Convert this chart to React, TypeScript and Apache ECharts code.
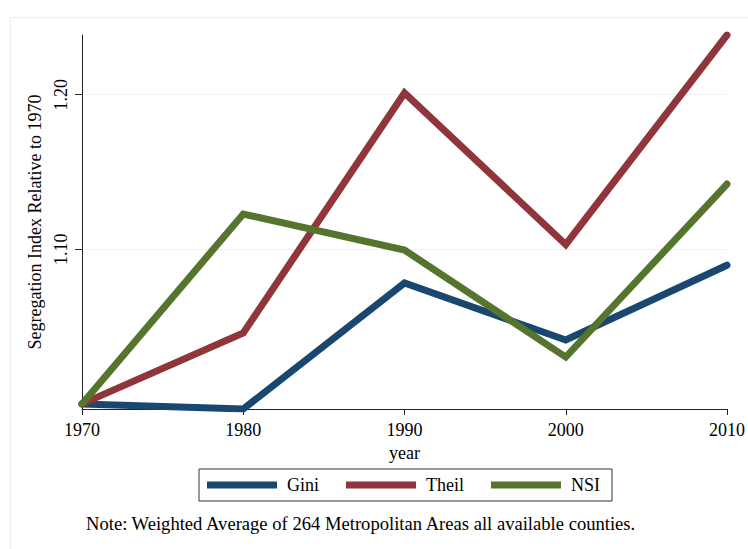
import React, { useEffect, useRef } from "react";
import * as echarts from "echarts";

// Census years on the horizontal axis
const years = ["1970", "1980", "1990", "2000", "2010"];

// Segregation indices, each relative to its 1970 level
const gini = [1.0, 0.9967, 1.0782, 1.0413, 1.0897];
const theil = [1.0, 1.0459, 1.2011, 1.1031, 1.2386];
const nsi = [1.0, 1.1228, 1.0995, 1.0303, 1.1422];

// Labelled ticks on the vertical axis
const yTicks = [1.1, 1.2];

const seriesNames = ["Gini", "Theil", "NSI"];
const seriesColors = ["#1a476f", "#90353b", "#55752f"];

const noteText =
  "Note: Weighted Average of 264 Metropolitan Areas all available counties.";

const FONT = "Liberation Serif";

export default function App() {
  const ref = useRef<HTMLDivElement>(null);

  useEffect(() => {
    if (!ref.current) return;
    const chart = echarts.init(ref.current, undefined, { renderer: "svg" });

    const allValues = [...gini, ...theil, ...nsi];
    const yMin = Math.min(...allValues);
    const yMax = Math.max(...allValues);

    const dataSets = [gini, theil, nsi];

    chart.setOption({
      animation: false,
      backgroundColor: "#ffffff",
      textStyle: { fontFamily: FONT, color: "#000" },
      grid: { left: 82, right: 18, top: 35, bottom: 140, containLabel: false },
      xAxis: {
        type: "category",
        data: years,
        boundaryGap: false,
        name: "year",
        nameLocation: "middle",
        nameGap: 30,
        nameTextStyle: { fontFamily: FONT, fontSize: 18, color: "#000" },
        axisLine: { show: true, lineStyle: { color: "#222", width: 1 } },
        axisTick: { show: true, length: 6, lineStyle: { color: "#222" } },
        axisLabel: {
          fontFamily: FONT,
          fontSize: 18,
          color: "#000",
          margin: 12,
        },
        splitLine: { show: false },
      },
      yAxis: {
        type: "value",
        min: yMin,
        max: yMax,
        name: "Segregation Index Relative to 1970",
        nameLocation: "middle",
        nameGap: 33,
        nameRotate: 90,
        nameTextStyle: { fontFamily: FONT, fontSize: 18, color: "#000" },
        axisLine: { show: true, lineStyle: { color: "#222", width: 1 } },
        axisTick: {
          show: true,
          length: 7,
          customValues: yTicks,
          lineStyle: { color: "#222" },
        },
        axisLabel: {
          customValues: yTicks,
          rotate: 90,
          fontFamily: FONT,
          fontSize: 18,
          color: "#000",
          margin: 12,
          formatter: (v: number) => v.toFixed(2),
        },
        splitLine: { show: true, lineStyle: { color: "#eaf2f3", width: 1 } },
      },
      legend: {
        data: seriesNames,
        left: 199,
        top: 469,
        orient: "horizontal",
        icon: "rect",
        itemWidth: 70,
        itemHeight: 7,
        itemGap: 27,
        padding: [7, 12, 7, 8],
        borderColor: "#333",
        borderWidth: 1,
        borderRadius: 0,
        textStyle: {
          fontFamily: FONT,
          fontSize: 18,
          color: "#000",
          padding: [0, 0, 0, 5],
        },
      },
      series: seriesNames.map((name, i) => ({
        name,
        type: "line",
        data: dataSets[i],
        symbol: "none",
        color: seriesColors[i],
        lineStyle: {
          color: seriesColors[i],
          width: 7,
          cap: "round",
          join: "miter",
        },
        z: 2 + i,
      })),
      graphic: [
        {
          type: "rect",
          left: 8,
          top: 15,
          shape: { width: 780, height: 580 },
          style: { fill: "none", stroke: "#e6eef0", lineWidth: 1 },
          silent: true,
          z: -10,
        },
        {
          type: "text",
          left: 86,
          top: 514,
          style: {
            text: noteText,
            fontFamily: FONT,
            fontSize: 18.6,
            fill: "#000",
          },
        },
      ],
    });

    return () => {
      chart.dispose();
    };
  }, []);

  return (
    <div
      ref={ref}
      style={{ position: "fixed", left: 0, top: 0, width: 748, height: 549 }}
    />
  );
}
